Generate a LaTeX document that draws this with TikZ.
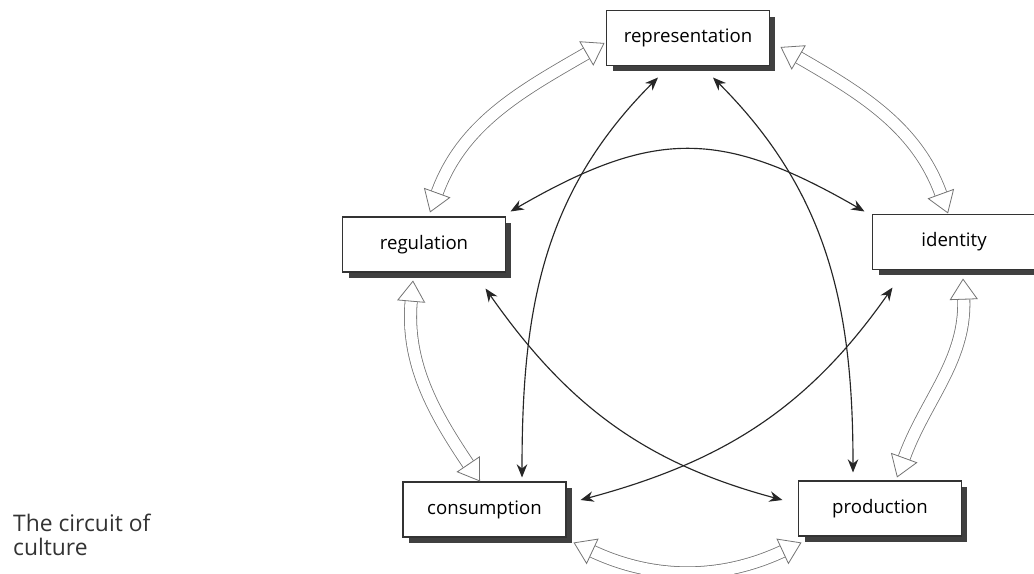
\documentclass[tikz,border=0pt]{standalone}
\usepackage{fontspec}
\setmainfont{Open Sans}
\usetikzlibrary{arrows.meta,shadows,calc}

\tikzset{
  box/.style={draw=black!80, line width=0.6pt, fill=white, minimum width=3.26cm,
    minimum height=1.1cm, inner sep=0pt, font=\fontsize{10.6}{12}\selectfont,
    drop shadow={shadow xshift=0.12cm, shadow yshift=-0.12cm, fill=black!75, opacity=1}},
  link/.style={line width=0.65pt, draw=black!85,
    {Stealth[length=7.5pt, width=6pt]}-{Stealth[length=7.5pt, width=6pt]}},
  hollow/.style={draw=black!55, line width=0.45pt, double=white, double distance=6.5pt,
    {Triangle[open, fill=white, length=12pt, width=16pt, line width=0.45pt]}-{Triangle[open, fill=white, length=12pt, width=16pt, line width=0.45pt]}}
}

\begin{document}
\begin{tikzpicture}[x=0.02cm, y=0.02cm]
\clip (0,0) rectangle (1034,-574);
\fill[white] (0,0) rectangle (1034,-574);
\draw (688,-38) node[box](representation) {representation};
\draw (424,-244.5) node[box](regulation) {regulation};
\draw (954,-242) node[box](identity) {identity};
\draw (484.5,-509.5) node[box](consumption) {consumption};
\draw (880,-508.5) node[box](production) {production};
\node[anchor=west, align=left, font=\fontsize{13}{13.5}\selectfont, text=black!80] (caption) at (7,-535) {The circuit of\\culture};
% outer ring
\draw[hollow] ($(regulation.north)+(6,4)$) to[out=70, in=210] ($(representation.west)+(-1.5,-5)$);
\draw[hollow] ($(representation.east)+(10.5,-9)$) to[out=-30, in=110] ($(identity.north)+(-6,0.5)$);
\draw[hollow] ($(identity.south)+(9,-8.5)$) to[out=-88, in=70] ($(production.north)+(17,3)$);
\draw[hollow] ($(consumption.south east)+(7,-5)$) to[out=-25, in=205] ($(production.south west)+(3.5,-6)$);
\draw[hollow] ($(regulation.south)+(-11,-8)$) to[out=-95, in=124] ($(consumption.north)+(-4.5,0)$);
% inner links
\draw[link] ($(representation.south)+(-30,-11.5)$) to[out=-135, in=90] ($(consumption.north)+(37.5,4)$);
\draw[link] ($(representation.south)+(25,-11.5)$) to[out=-45, in=90] ($(production.north)+(-27,8)$);
\draw[link] ($(regulation.north east)+(4.5,5)$) to[out=30, in=150, looseness=1.2] ($(identity.north west)+(-7.5,2.5)$);
\draw[link] ($(regulation.south east)+(-20.5,-16)$) to[out=-55, in=165] ($(production.west)+(-15.5,8.5)$);
\draw[link] ($(identity.south west)+(20.5,-17.5)$) to[out=-125, in=15] ($(consumption.east)+(14,9.5)$);
\end{tikzpicture}
\end{document}
